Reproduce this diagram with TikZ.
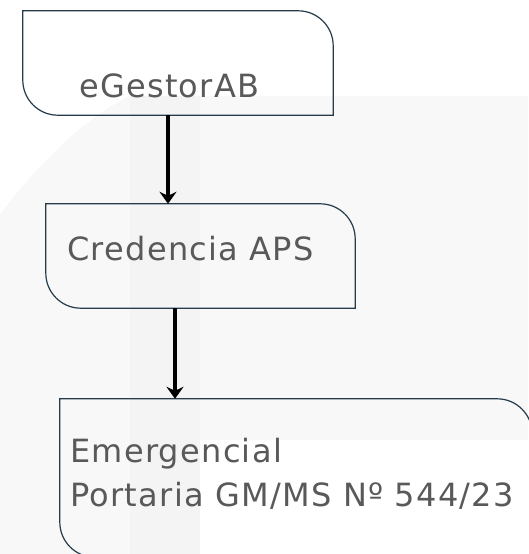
\documentclass[tikz,border=0pt]{standalone}
\usepackage{fontspec}
\setmainfont{DejaVu Sans}
\newfontfamily\boxfont[LetterSpace=4]{DejaVu Sans}
\usetikzlibrary{arrows.meta}

\definecolor{boxedge}{HTML}{253B4A}
\definecolor{boxtext}{HTML}{595959}
\definecolor{bgsoft}{HTML}{F8F8F8}
\definecolor{bgband}{HTML}{F4F4F4}

\tikzset{
  stage/.style={rectangle, draw=none, inner sep=0pt},
  caption/.style={anchor=base west, inner sep=0pt, text=boxtext, font=\boxfont\fontsize{32}{44}\selectfont},
  outline/.style={draw=boxedge, line width=1.2pt},
  flow/.style={line width=4pt, -{Stealth[length=12pt, width=17pt, inset=4pt]}},
}

\begin{document}
\begin{tikzpicture}[x=1pt, y=1pt]
  \useasboundingbox (0,0) rectangle (528,-554);
  \fill[white] (0,0) rectangle (528,-554);
  \fill[bgsoft] (0,-554) -- (0,-215) .. controls (40,-160) and (90,-115) .. (130,-96) -- (528,-96) -- (528,-440) -- (200,-440) -- (200,-554) -- cycle;
  \fill[bgband] (130,-96) rectangle (200,-554);

  \node[stage, minimum width=310pt, minimum height=104pt] (B1) at (178,-63) {};
  \node[stage, minimum width=309pt, minimum height=104pt] (B2) at (200.5,-256) {};
  \node[stage, minimum width=472pt, minimum height=158pt] (B3) at (296,-478) {};

  \foreach \b in {B1,B2,B3}
    \draw[outline] (\b.north west) -- ([xshift=-35pt]\b.north east)
      arc[start angle=90, end angle=0, radius=35pt] -- (\b.south east)
      -- ([xshift=35pt]\b.south west)
      arc[start angle=270, end angle=180, radius=35pt] -- cycle;

  \node[caption] (T1) at (79,-97) {eGestorAB};
  \node[caption] (T2) at (67,-260) {Credencia APS};
  \node[caption] (T3) at (70,-462) {Emergencial};
  \node[caption] (T4) at (70,-506) {Portaria GM/MS Nº 544/23};

  \draw[flow] ([xshift=-10pt]B1.south) -- ([xshift=-10pt]B1.south |- B2.north);
  \draw[flow] ([xshift=-25.5pt]B2.south) -- ([xshift=-25.5pt]B2.south |- B3.north);
\end{tikzpicture}
\end{document}
